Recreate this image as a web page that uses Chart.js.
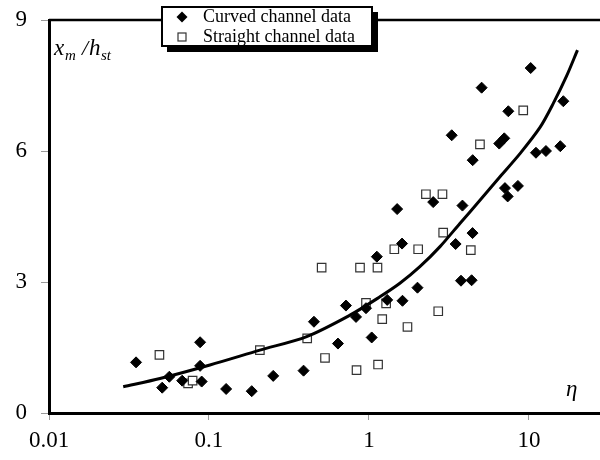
<!DOCTYPE html>
<html>
<head>
<meta charset="utf-8">
<script src="https://cdn.jsdelivr.net/npm/chart.js@4/dist/chart.umd.min.js"></script>
<style>
  body { margin: 0; background: #fff; }
  #wrap { width: 600px; height: 460px; }
</style>
</head>
<body>
<div id="wrap"><canvas id="chart" width="600" height="460"></canvas></div>
<script>
// values
var curvedX = [0.035, 0.051, 0.0565, 0.068, 0.088, 0.088, 0.090, 0.128, 0.185, 0.252, 0.39, 0.453, 0.64, 0.718, 0.83, 0.958, 1.04, 1.12, 1.30, 1.61, 1.62, 2.01, 3.48, 3.76, 4.38, 4.44, 1.50, 2.52, 3.84, 3.29, 4.45, 5.06, 6.52, 7.01, 7.43, 7.08, 7.36, 8.53, 10.25, 11.06, 12.77, 15.7, 16.4];
var curvedY = [1.16, 0.58, 0.83, 0.74, 1.62, 1.08, 0.72, 0.55, 0.50, 0.85, 0.97, 2.09, 1.59, 2.46, 2.20, 2.40, 1.73, 3.58, 2.59, 3.88, 2.57, 2.87, 3.87, 3.03, 3.04, 4.12, 4.67, 4.83, 4.75, 6.36, 5.79, 7.45, 6.17, 6.29, 6.91, 5.15, 4.96, 5.20, 7.90, 5.96, 6.00, 6.11, 7.14];

var straightX = [0.049, 0.074, 0.079, 0.208, 0.411, 0.506, 0.531, 0.836, 0.879, 0.958, 1.13, 1.14, 1.21, 1.28, 1.44, 1.74, 2.03, 2.71, 2.91, 4.33, 2.27, 2.88, 4.94, 9.21];
var straightY = [1.33, 0.68, 0.74, 1.44, 1.71, 3.33, 1.26, 0.98, 3.33, 2.52, 3.33, 1.11, 2.15, 2.51, 3.75, 1.97, 3.75, 2.33, 4.13, 3.73, 5.01, 5.01, 6.15, 6.93];

// fitted curve, traced point by point
var fitX = [0.0291, 0.0494, 0.1014, 0.208, 0.408, 0.760, 1.17, 1.56, 2.08, 2.78, 3.70, 4.94, 6.59, 8.79, 11.72, 14.19, 17.2, 20.1];
var fitY = [0.60, 0.79, 1.10, 1.44, 1.75, 2.24, 2.66, 2.97, 3.35, 3.81, 4.34, 4.87, 5.41, 5.94, 6.54, 7.09, 7.72, 8.31];

var xTicks = [0.01, 0.1, 1, 10];
var yTicks = [0, 3, 6, 9];
var seriesNames = ["Curved channel data", "Straight channel data"];

function pairs(xs, ys) {
  return xs.map(function (x, i) { return { x: x, y: ys[i] }; });
}

var serif = "'Liberation Serif', 'DejaVu Serif', serif";

// top frame line, drawn under the marks
var frameTop = {
  id: "frameTop",
  beforeDatasetsDraw: function (chart) {
    var ctx = chart.ctx;
    var a = chart.chartArea;
    ctx.save();
    ctx.strokeStyle = "#000";
    ctx.lineWidth = 2.5;
    ctx.beginPath();
    ctx.moveTo(a.left, a.top);
    ctx.lineTo(a.right, a.top);
    ctx.stroke();
    ctx.restore();
  }
};

// boxed legend with shadow + axis names
var extras = {
  id: "extras",
  afterDraw: function (chart) {
    var ctx = chart.ctx;
    ctx.save();

    // shadow then box
    ctx.fillStyle = "#000";
    ctx.fillRect(167, 12, 211, 40);
    ctx.fillStyle = "#fff";
    ctx.fillRect(162, 7, 210, 39);
    ctx.strokeStyle = "#000";
    ctx.lineWidth = 2;
    ctx.strokeRect(162, 7, 210, 39);

    // legend markers
    ctx.fillStyle = "#000";
    ctx.beginPath();
    ctx.moveTo(182, 11.5); ctx.lineTo(187.5, 17); ctx.lineTo(182, 22.5); ctx.lineTo(176.5, 17);
    ctx.closePath();
    ctx.fill();

    ctx.fillStyle = "#fff";
    ctx.strokeStyle = "#333";
    ctx.lineWidth = 1.2;
    ctx.fillRect(178, 33, 8, 8);
    ctx.strokeRect(178, 33, 8, 8);

    ctx.fillStyle = "#000";
    ctx.font = "18px " + serif;
    ctx.textBaseline = "middle";
    ctx.textAlign = "left";
    ctx.fillText(seriesNames[0], 203, 17);
    ctx.fillText(seriesNames[1], 203, 37);

    // y axis name  x_m / h_st
    ctx.textBaseline = "alphabetic";
    ctx.font = "italic 23px " + serif;
    ctx.fillText("x", 54, 55);
    ctx.font = "italic 15px " + serif;
    ctx.fillText("m", 65, 60);
    ctx.font = "italic 22px " + serif;
    ctx.fillText("/", 82, 55);
    ctx.font = "italic 23px " + serif;
    ctx.fillText("h", 89, 55);
    ctx.font = "italic 15px " + serif;
    ctx.fillText("st", 101, 60);

    // x axis name
    ctx.font = "italic 23px " + serif;
    ctx.fillText("\u03b7", 566, 396);

    ctx.restore();
  }
};

var ctx = document.getElementById("chart").getContext("2d");

new Chart(ctx, {
  type: "scatter",
  data: {
    datasets: [
      {
        label: seriesNames[0],
        data: pairs(curvedX, curvedY),
        pointStyle: "rectRot",
        pointRadius: 5.5,
        pointBackgroundColor: "#000",
        pointBorderColor: "#000",
        pointBorderWidth: 1,
        order: 1
      },
      {
        label: seriesNames[1],
        data: pairs(straightX, straightY),
        pointStyle: "rect",
        pointRadius: 6,
        pointBackgroundColor: "#fff",
        pointBorderColor: "#333",
        pointBorderWidth: 1.2,
        order: 2
      },
      {
        label: "fit",
        type: "line",
        data: pairs(fitX, fitY),
        borderColor: "#000",
        borderWidth: 3,
        pointRadius: 0,
        tension: 0.3,
        fill: false,
        order: 0
      }
    ]
  },
  options: {
    responsive: false,
    animation: false,
    layout: { autoPadding: false, padding: { top: 20, right: 0, left: 0, bottom: 0 } },
    plugins: {
      legend: { display: false },
      tooltip: { enabled: false }
    },
    scales: {
      x: {
        type: "logarithmic",
        min: 0.01,
        max: 27.8,
        afterBuildTicks: function (scale) {
          scale.ticks = xTicks.map(function (v) { return { value: v }; });
        },
        afterFit: function (scale) {
          scale.height = 47;
          scale.paddingRight = 0;
          scale.paddingLeft = 0;
        },
        ticks: {
          color: "#000",
          font: { family: serif, size: 23 },
          padding: 7,
          maxRotation: 0,
          autoSkip: false,
          callback: function (v) { return String(v); }
        },
        grid: { drawOnChartArea: false, tickLength: 7, color: "#999", tickWidth: 1 },
        border: { color: "#000", width: 3 }
      },
      y: {
        min: 0,
        max: 9,
        afterBuildTicks: function (scale) {
          scale.ticks = yTicks.map(function (v) { return { value: v }; });
        },
        afterFit: function (scale) {
          scale.width = 49;
          scale.paddingTop = 0;
          scale.paddingBottom = 0;
        },
        ticks: {
          color: "#000",
          font: { family: serif, size: 23 },
          padding: 14
        },
        grid: { drawOnChartArea: false, tickLength: 8, color: "#999", tickWidth: 1 },
        border: { color: "#000", width: 3 }
      }
    }
  },
  plugins: [frameTop, extras]
});
</script>
</body>
</html>
